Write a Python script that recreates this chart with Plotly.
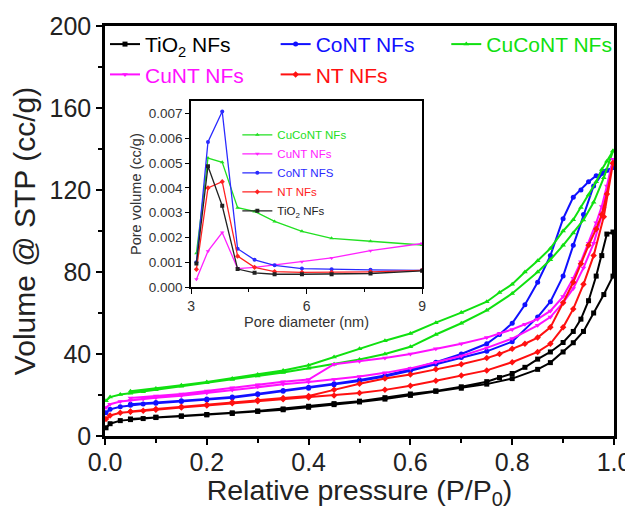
import plotly.graph_objects as go

# ---------------- main isotherm data ----------------
P_ADS = [0.002, 0.01, 0.03, 0.05, 0.075, 0.1, 0.15, 0.2, 0.25, 0.3, 0.35, 0.4, 0.45, 0.5,
         0.55, 0.6, 0.65, 0.7, 0.75, 0.8, 0.85, 0.875, 0.9, 0.92, 0.94, 0.96, 0.98, 0.998]
P_DES = [0.998, 0.986, 0.976, 0.965, 0.95, 0.935, 0.92, 0.9, 0.875, 0.85, 0.825, 0.8, 0.775, 0.75,
         0.7, 0.65, 0.6, 0.55, 0.5, 0.45, 0.4, 0.35, 0.3, 0.25, 0.2, 0.15, 0.1, 0.05]

TIO2_ADS = [4, 6, 7.5, 8, 8.5, 9, 9.6, 10.3, 11, 12, 12.8, 14, 15.3, 16.6,
            18, 19.8, 21.8, 23.3, 25.3, 28, 32.5, 35.8, 41, 45.5, 51, 60, 69, 78]
TIO2_DES = [99.5, 98.5, 88, 78, 66, 57, 51, 45.6, 41, 37.5, 33.5, 30.5, 28.5, 26.5,
            24, 22, 20.5, 18.7, 17, 15.8, 14.5, 13.2, 12.2, 11.3, 10.5, 9.8, 9.2, 8.3]

CONT_ADS = [11.4, 13, 14.3, 15, 15.6, 16, 16.8, 17.6, 18.6, 20.2, 21.8, 23.3, 25, 26.8,
            29, 31.8, 35, 38.3, 41.3, 46, 58, 65.5, 78, 93, 108, 122, 129, 131]
CONT_DES = [131, 129.5, 128, 127, 124, 120, 116.5, 106, 88, 75, 64, 55, 49.5, 45,
            40, 36, 32.5, 29.5, 27.3, 25.5, 23.8, 22.2, 20.6, 19, 18, 17.2, 16.4, 15.5]

CUCONT_ADS = [17.2, 19, 20.2, 20.8, 21.6, 22.5, 24.3, 26, 27.5, 29.3, 31, 33, 35, 37.3,
              40, 43.5, 49.5, 55, 61.3, 69.5, 80, 86, 93, 99, 105.4, 114, 126, 139]
CUCONT_DES = [139, 134, 130, 124, 117.6, 111.5, 105.5, 100, 91.5, 85.5, 80, 74, 70, 65.5,
              60.2, 55.3, 50, 46.5, 42.5, 38.5, 34.5, 32, 30, 28, 26.3, 24.8, 23.2, 21.8]

CUNT_ADS = [13.9, 15.5, 16.8, 17.4, 18, 18.6, 19.6, 21, 22.4, 24, 25.2, 26.3, 27.5, 29,
            30.8, 33, 36, 39, 43, 47.5, 54, 58, 65, 72, 82, 94, 111, 135]
CUNT_DES = [135, 122, 112, 104, 94, 85, 77, 68, 61, 57, 54.5, 52, 50, 48,
            45, 42.5, 40, 38, 36.5, 35, 27.5, 26.5, 25, 23.5, 22, 20.5, 19.5, 18.5]

NT_ADS = [8.3, 10, 11.3, 11.8, 12.3, 12.8, 13.9, 14.9, 16, 17, 17.9, 18.8, 19.8, 21,
          22.5, 24.5, 27, 29.5, 32, 36, 41, 45, 53, 62, 74, 88, 107, 133]
NT_DES = [133, 118, 108, 101, 93, 84, 75, 65, 53, 48, 45, 42.5, 40, 38,
          35, 32.5, 30, 28, 25.5, 22.5, 19.5, 18.5, 17.5, 16.5, 15.3, 14.3, 13.2, 12]

# ---------------- inset pore size data ----------------
PORE_D = [3.14, 3.44, 3.81, 4.21, 4.65, 5.17, 5.88, 6.65, 7.66, 9.0]
PV_CUCONT = [0.00137, 0.0052, 0.00503, 0.0032, 0.00305, 0.00265, 0.00225, 0.00197, 0.00185, 0.0017]
PV_CUNT = [0.00032, 0.00145, 0.0022, 0.00075, 0.0008, 0.0009, 0.00102, 0.00118, 0.00147, 0.00176]
PV_CONT = [0.001, 0.00585, 0.00708, 0.00155, 0.0011, 0.00088, 0.00075, 0.00072, 0.0007, 0.00068]
PV_NT = [0.00072, 0.004, 0.00425, 0.00125, 0.0008, 0.00063, 0.0006, 0.0006, 0.00062, 0.00068]
PV_TIO2 = [0.00095, 0.00487, 0.00328, 0.00073, 0.00058, 0.00052, 0.00052, 0.00052, 0.00055, 0.00066]

FONT = "Liberation Sans, Arial, sans-serif"

main_series = [
    ("TiO<sub>2</sub> NFs", TIO2_ADS, TIO2_DES, "#000000", "square"),
    ("CoNT NFs", CONT_ADS, CONT_DES, "#1010ff", "circle"),
    ("CuCoNT NFs", CUCONT_ADS, CUCONT_DES, "#10e010", "triangle-up"),
    ("CuNT NFs", CUNT_ADS, CUNT_DES, "#ff10ff", "triangle-down"),
    ("NT NFs", NT_ADS, NT_DES, "#ff1010", "diamond"),
]

fig = go.Figure()
for name, ads, des, col, sym in main_series:
    fig.add_trace(go.Scatter(
        x=P_ADS + P_DES, y=ads + des, mode="lines+markers",
        name=f"<span style='color:{col}'>{name}</span>",
        line=dict(color=col, width=2), marker=dict(color=col, symbol=sym, size=5),
        legend="legend", xaxis="x", yaxis="y"))

inset_series = [
    ("CuCoNT NFs", PV_CUCONT, "#22e022", "triangle-up"),
    ("CuNT NFs", PV_CUNT, "#ff22ff", "triangle-down"),
    ("CoNT NFS", PV_CONT, "#2a2aff", "circle"),
    ("NT NFs", PV_NT, "#ff2222", "diamond"),
    ("TiO<sub>2</sub> NFs", PV_TIO2, "#222222", "square"),
]
for name, vals, col, sym in inset_series:
    fig.add_trace(go.Scatter(
        x=PORE_D, y=vals, mode="lines+markers",
        name=f"<span style='color:{col}'>{name}</span>",
        line=dict(color=col, width=1.3), marker=dict(color=col, symbol=sym, size=4),
        legend="legend2", xaxis="x2", yaxis="y2"))

axis_common = dict(showgrid=False, zeroline=False, showline=True, linecolor="black",
                   mirror=True, ticks="outside", tickcolor="black", automargin=False)

# the page body adds an 8px offset, so the figure is sized/margined to compensate
fig.update_layout(
    width=625, height=502,
    margin=dict(l=97, r=19, t=18, b=74),
    paper_bgcolor="white", plot_bgcolor="white",
    font=dict(family=FONT, color="black"),
    xaxis=dict(**axis_common, domain=[0, 1], range=[0, 1.0], dtick=0.2, tickformat=".1f",
               linewidth=2.5, tickwidth=2, ticklen=6, ticklabelstandoff=-4,
               minor=dict(dtick=0.1, ticks="outside", ticklen=4, tickwidth=2, tickcolor="black"),
               tickfont=dict(size=25, color="#222"),
               title=dict(text="Relative pressure (P/P<sub>0</sub>)", font=dict(size=28.5, color="#222"),
                          standoff=12)),
    yaxis=dict(**axis_common, domain=[0, 1], range=[0, 200], dtick=40,
               linewidth=2.5, tickwidth=2, ticklen=6,
               minor=dict(dtick=20, ticks="outside", ticklen=4, tickwidth=2, tickcolor="black"),
               tickfont=dict(size=25, color="#222"),
               title=dict(text="Volume @ STP (cc/g)", font=dict(size=30, color="#222"), standoff=8)),
    xaxis2=dict(**axis_common, domain=[0.169, 0.623], anchor="y2", range=[3, 9], dtick=3,
                linewidth=1.5, tickwidth=1.2, ticklen=5,
                minor=dict(dtick=1.5, ticks="outside", ticklen=3, tickwidth=1, tickcolor="black"),
                tickfont=dict(size=14, color="#333"),
                title=dict(text="Pore diameter (nm)", font=dict(size=14.5, color="#333"), standoff=2)),
    yaxis2=dict(**axis_common, domain=[0.363, 0.817], anchor="x2", range=[0, 0.0075], dtick=0.001,
                tickformat=".3f", linewidth=1.5, tickwidth=1.2, ticklen=4,
                tickfont=dict(size=13.5, color="#333"),
                title=dict(text="Pore volume (cc/g)", font=dict(size=14.5, color="#333"), standoff=4)),
    legend=dict(orientation="h", x=0, y=1.005, xanchor="left", yanchor="top",
                font=dict(size=21), bgcolor="rgba(0,0,0,0)", itemwidth=30, tracegroupgap=0),
    legend2=dict(orientation="v", x=0.26, y=0.77, xanchor="left", yanchor="top",
                 font=dict(size=11.5), bgcolor="rgba(0,0,0,0)", itemwidth=30, tracegroupgap=0),
    showlegend=True,
)

fig.write_html("out.html")
